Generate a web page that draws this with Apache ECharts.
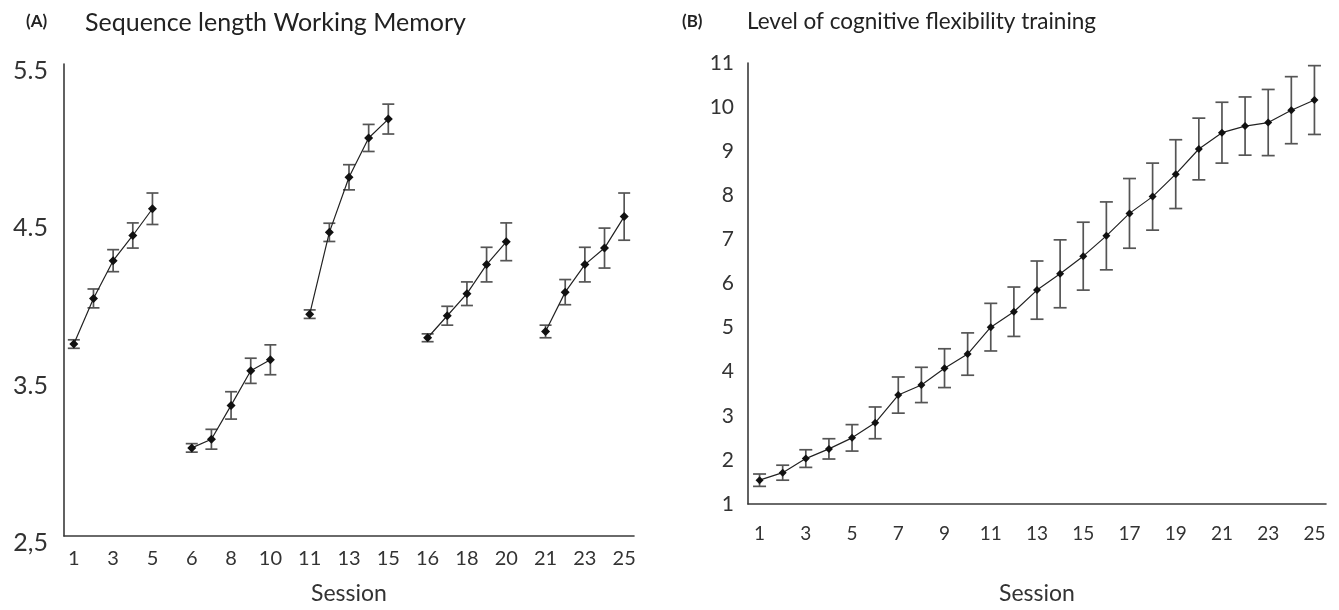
<!DOCTYPE html>
<html>
<head>
<meta charset="utf-8">
<script src="https://cdn.jsdelivr.net/npm/echarts@6/dist/echarts.min.js"></script>
<style>
html,body{margin:0;padding:0;background:#fff;}
#chart{width:1339px;height:610px;}
</style>
</head>
<body>
<div id="chart"></div>
<script>
// ---------- Data ----------
const sessionsA = [1,2,3,4,5,6,7,8,9,10,11,12,13,14,15,16,17,18,19,20,21,22,23,24,25];
const meanA = [3.72,4.01,4.25,4.41,4.58, 3.06,3.115,3.33,3.55,3.62, 3.91,4.43,4.78,5.03,5.15, 3.76,3.90,4.04,4.225,4.37, 3.80,4.05,4.225,4.33,4.53];
const errA  = [0.027,0.06,0.07,0.08,0.10, 0.027,0.063,0.087,0.08,0.095, 0.027,0.058,0.08,0.086,0.095, 0.025,0.06,0.075,0.11,0.12, 0.04,0.08,0.11,0.127,0.15];
const blockSizeA = 5;
const yTicksA = [2.5,3.5,4.5,5.5];
const yTickLabelsA = ['2,5','3.5','4.5','5.5'];

const sessionsB = [1,2,3,4,5,6,7,8,9,10,11,12,13,14,15,16,17,18,19,20,21,22,23,24,25];
const meanB = [1.54,1.71,2.03,2.25,2.50,2.84,3.47,3.70,4.08,4.40,5.01,5.36,5.85,6.22,6.62,7.08,7.59,7.97,8.48,9.05,9.42,9.57,9.65,9.93,10.16];
const errB  = [0.14,0.17,0.20,0.23,0.30,0.36,0.41,0.40,0.44,0.48,0.54,0.56,0.66,0.77,0.77,0.77,0.79,0.76,0.78,0.70,0.69,0.66,0.75,0.76,0.78];

const titleA = 'Sequence length Working Memory';
const titleB = 'Level of cognitive flexibility training';
const xNameA = 'Session', xNameB = 'Session';

// ---------- Build category slots for A (blank slot between blocks) ----------
const catsA = [];
const slotOfA = [];
sessionsA.forEach((s, i) => {
  if (i > 0 && i % blockSizeA === 0) catsA.push('');
  slotOfA.push(catsA.length);
  catsA.push(String(s));
});
const lineDataA = catsA.map(() => '-');
sessionsA.forEach((s, i) => { lineDataA[slotOfA[i]] = meanA[i]; });
const errDataA = sessionsA.map((s, i) => [slotOfA[i], meanA[i] - errA[i], meanA[i] + errA[i]]);

const catsB = sessionsB.map(String);
const errDataB = sessionsB.map((s, i) => [i, meanB[i] - errB[i], meanB[i] + errB[i]]);

const FONT = 'Lato';
const AX = '#3a3a3a';
const ERR = '#555';

function errRender(capW) {
  return function (params, api) {
    const x = api.value(0);
    const p1 = api.coord([x, api.value(1)]);
    const p2 = api.coord([x, api.value(2)]);
    const st = { stroke: ERR, lineWidth: 1.7, fill: null };
    return {
      type: 'group',
      children: [
        { type: 'line', shape: { x1: p1[0], y1: p1[1], x2: p2[0], y2: p2[1] }, style: st },
        { type: 'line', shape: { x1: p1[0] - capW / 2, y1: p1[1], x2: p1[0] + capW / 2, y2: p1[1] }, style: st },
        { type: 'line', shape: { x1: p2[0] - capW / 2, y1: p2[1], x2: p2[0] + capW / 2, y2: p2[1] }, style: st }
      ]
    };
  };
}

const chart = echarts.init(document.getElementById('chart'), null, { renderer: 'canvas' });
chart.setOption({
  backgroundColor: '#fff',
  animation: false,
  textStyle: { fontFamily: FONT },
  title: [
    { text: '(A)', left: 21, top: 8, textStyle: { fontFamily: FONT, fontWeight: 'bold', fontSize: 17, color: '#222' } },
    { text: titleA, left: 80, top: 5, textStyle: { fontFamily: FONT, fontWeight: 'normal', fontSize: 25, color: '#222' } },
    { text: '(B)', left: 677, top: 8, textStyle: { fontFamily: FONT, fontWeight: 'bold', fontSize: 17, color: '#222' } },
    { text: titleB, left: 742, top: 5, textStyle: { fontFamily: FONT, fontWeight: 'normal', fontSize: 22.5, color: '#222' } }
  ],
  grid: [
    { left: 64, top: 64, width: 570, height: 473 },
    { left: 748, top: 63, width: 578, height: 441 }
  ],
  xAxis: [
    {
      gridIndex: 0, type: 'category', data: catsA, boundaryGap: true,
      axisLine: { lineStyle: { color: AX, width: 1.6 } },
      axisTick: { show: false },
      axisLabel: { interval: 1, margin: 13, fontSize: 20, color: '#333', fontFamily: FONT },
      name: xNameA, nameLocation: 'middle', nameGap: 46,
      nameTextStyle: { fontSize: 23, color: '#333', fontFamily: FONT }
    },
    {
      gridIndex: 1, type: 'category', data: catsB, boundaryGap: true,
      axisLine: { lineStyle: { color: AX, width: 1.6 } },
      axisTick: { show: false },
      axisLabel: { interval: 1, margin: 20, fontSize: 19, color: '#333', fontFamily: FONT },
      name: xNameB, nameLocation: 'middle', nameGap: 78,
      nameTextStyle: { fontSize: 23, color: '#333', fontFamily: FONT }
    }
  ],
  yAxis: [
    {
      gridIndex: 0, type: 'value', min: 2.5, max: 5.5,
      axisLine: { show: true, lineStyle: { color: AX, width: 1.6 } },
      axisTick: { show: false },
      splitLine: { show: false },
      axisLabel: {
        customValues: yTicksA, margin: 16, fontSize: 25, color: '#333', fontFamily: FONT,
        verticalAlign: 'top', lineHeight: 14,
        formatter: v => { const k = yTicksA.findIndex(t => Math.abs(t - v) < 1e-6); return k >= 0 ? yTickLabelsA[k] : ''; }
      }
    },
    {
      gridIndex: 1, type: 'value', min: 1, max: 11, interval: 1,
      axisLine: { show: true, lineStyle: { color: AX, width: 1.6 } },
      axisTick: { show: false },
      splitLine: { show: false },
      axisLabel: { margin: 14, fontSize: 21, color: '#333', fontFamily: FONT }
    }
  ],
  series: [
    {
      type: 'custom', xAxisIndex: 0, yAxisIndex: 0, renderItem: errRender(12),
      data: errDataA, z: 2, silent: true
    },
    {
      type: 'line', xAxisIndex: 0, yAxisIndex: 0, data: lineDataA, connectNulls: false,
      symbol: 'diamond', symbolSize: 9, showAllSymbol: true,
      itemStyle: { color: '#111' }, lineStyle: { color: '#222', width: 1.2 }, z: 3
    },
    {
      type: 'custom', xAxisIndex: 1, yAxisIndex: 1, renderItem: errRender(13),
      data: errDataB, z: 2, silent: true
    },
    {
      type: 'line', xAxisIndex: 1, yAxisIndex: 1, data: meanB,
      symbol: 'diamond', symbolSize: 8, showAllSymbol: true,
      itemStyle: { color: '#111' }, lineStyle: { color: '#222', width: 1.2 }, z: 3
    }
  ]
});
</script>
</body>
</html>
